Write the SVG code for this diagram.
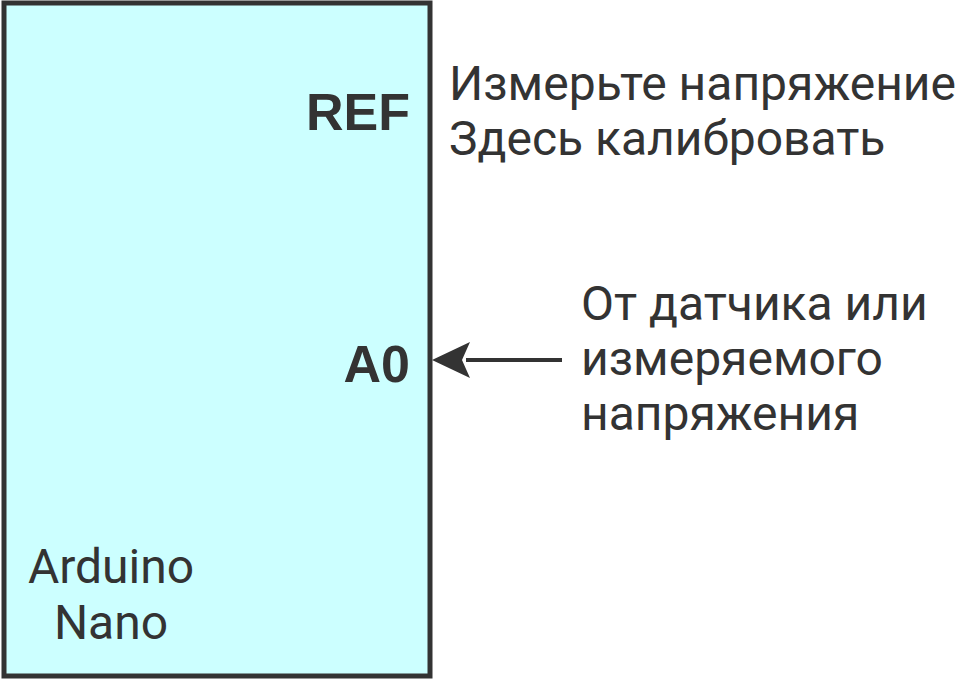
<svg xmlns="http://www.w3.org/2000/svg" width="963" height="679" viewBox="0 0 963 679">
<style>
text{font-family:Roboto,"Liberation Sans",sans-serif;fill:#333}
.b{font-family:"Liberation Sans",Arial,sans-serif;font-weight:bold;font-size:52px;text-anchor:end}
.t{font-size:48px}
.n{font-size:48px;text-anchor:middle}
</style>
<rect width="963" height="679" fill="#fff"/>
<g id="nano">
<rect x="4" y="3" width="426" height="673" fill="#ccffff" stroke="#333" stroke-width="5"/>
<text class="b" x="410" y="130">REF</text>
<text class="b" x="410" y="382">A0</text>
<text class="n" x="111" y="583">Arduino</text>
<text class="n" x="111" y="639">Nano</text>
</g>
<g id="note1">
<text class="t" x="449" y="100">Измерьте напряжение</text>
<text class="t" x="449" y="155">Здесь калибровать</text>
</g>
<g id="note2">
<text class="t" x="581" y="320">От датчика или</text>
<text class="t" x="581" y="375">измеряемого</text>
<text class="t" x="581" y="430">напряжения</text>
</g>
<g id="connectors">
<line x1="562" y1="360" x2="466" y2="360" stroke="#333" stroke-width="4"/>
<path d="M432,360 L470,342 L462,360 L470,378 Z" fill="#333"/>
</g>
</svg>
